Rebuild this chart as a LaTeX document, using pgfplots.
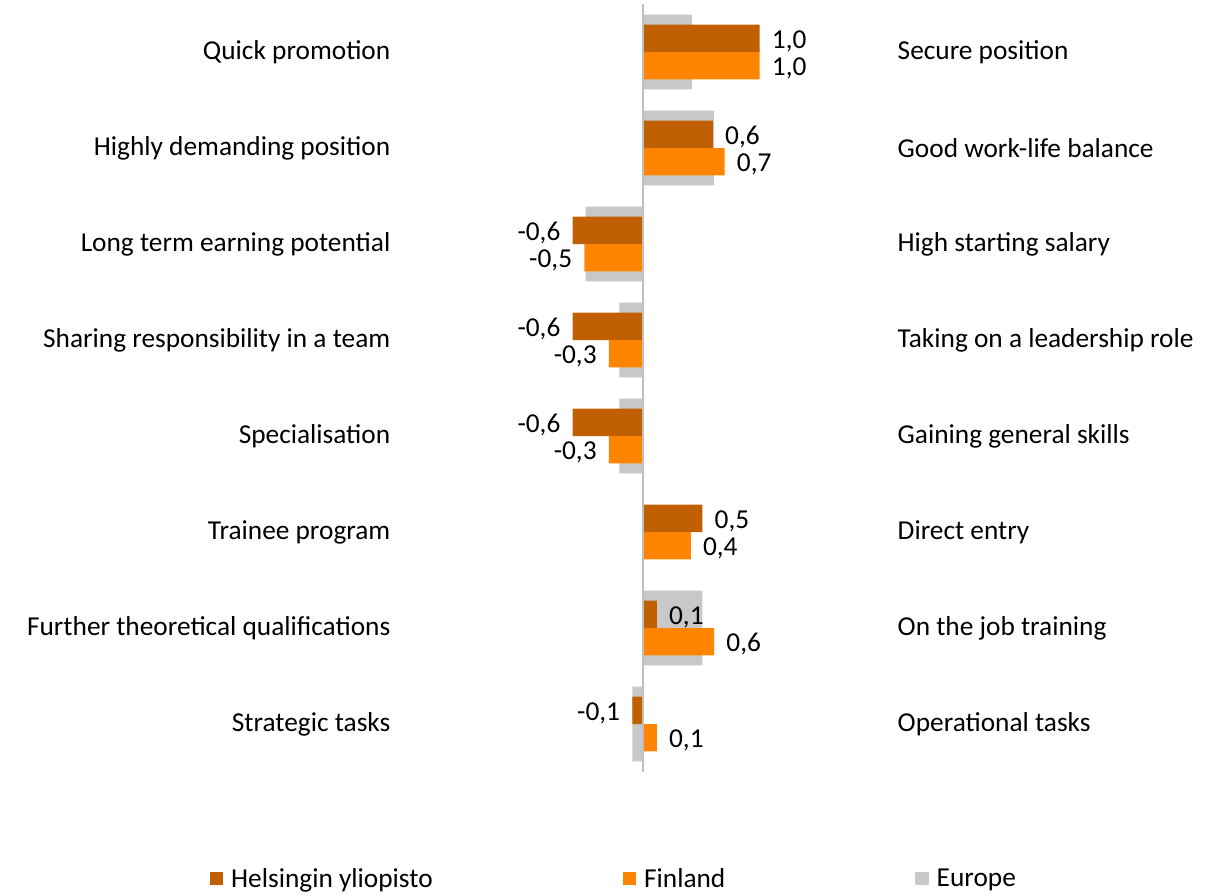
\documentclass[border=0pt]{standalone}
\usepackage{fontspec}
\setmainfont{Carlito}
\usepackage{pgfplots}
\pgfplotsset{compat=1.18}
\usepackage{pgfplotstable}

\definecolor{hycol}{RGB}{192,96,0}
\definecolor{ficol}{RGB}{255,133,0}
\definecolor{eucol}{RGB}{200,200,200}
\definecolor{zerocol}{RGB}{191,191,191}

% idx: row from top; hy = Helsingin yliopisto, fi = Finland, eu = Europe
\pgfplotstableread{
idx hy fi eu
0 1.00 1.00 0.42
1 0.60 0.70 0.61
2 -0.60 -0.50 -0.49
3 -0.60 -0.29 -0.20
4 -0.60 -0.29 -0.20
5 0.51 0.41 0.00
6 0.12 0.61 0.51
7 -0.09 0.12 -0.09
}\datatable

\newcommand{\lblfont}{\fontsize{20.5}{24}\selectfont}

\begin{document}
\begin{tikzpicture}
\useasboundingbox (-296.25pt,-91.5pt) rectangle (612pt,579pt);
\pgfkeys{/pgf/number format/.cd, fixed, fixed zerofill, precision=1, use comma, assume math mode=true}
\begin{axis}[
    at={(0pt,0pt)}, anchor=south west,
    scale only axis,
    width=373.5pt, height=576pt,
    xmin=-2.12, xmax=2.14,
    ymin=-0.5, ymax=7.5,
    y dir=reverse,
    axis line style={draw=none},
    xtick=\empty,
    ytick={0,...,7},
    major tick length=0pt,
    yticklabels={Quick promotion, Highly demanding position, Long term earning potential,
        Sharing responsibility in a team, Specialisation, Trainee program,
        Further theoretical qualifications, Strategic tasks},
    tick label style={font=\lblfont},
    legend image code/.code={\fill[#1, draw=none] (0pt,-4.9pt) rectangle (10pt,4.9pt); \path (14pt,0pt);},
    legend style={draw=none, fill=none, at={(axis cs:-3.74,8.61)}, anchor=west,
        font=\lblfont, /tikz/every even column/.append style={column sep=140.5pt}},
    legend columns=3,
    legend cell align=left,
]
\addplot[xbar, bar width=0.78, bar shift=0, fill=eucol, draw=none, forget plot]
    table[x=eu, y=idx] {\datatable};
\addplot[xbar, bar width=0.286, bar shift=-0.143, fill=hycol, draw=none, forget plot,
    point meta=x, nodes near coords, nodes near coords align={horizontal},
    every node near coord/.append style={font=\lblfont, text=black, yshift=8.3pt, inner xsep=9pt}]
    table[x=hy, y=idx] {\datatable};
\addplot[xbar, bar width=0.286, bar shift=0.143, fill=ficol, draw=none, forget plot,
    point meta=x, nodes near coords, nodes near coords align={horizontal},
    every node near coord/.append style={font=\lblfont, text=black, yshift=-12.3pt, inner xsep=9pt}]
    table[x=fi, y=idx] {\datatable};
\draw[color=zerocol, line width=1.5pt] (axis cs:0,-0.5) -- (axis cs:0,7.5);

\addlegendimage{fill=hycol, draw=none}
\addlegendentry{Helsingin yliopisto}
\addlegendimage{fill=ficol, draw=none}
\addlegendentry{Finland}
\addlegendimage{fill=eucol, draw=none}
\addlegendentry{Europe}
\end{axis}

\begin{axis}[
    at={(0pt,0pt)}, anchor=south west,
    scale only axis,
    width=373.5pt, height=576pt,
    xmin=-2.12, xmax=2.14,
    ymin=-0.5, ymax=7.5,
    y dir=reverse,
    axis line style={draw=none},
    xtick=\empty,
    ytick={0,...,7},
    major tick length=0pt,
    yticklabel pos=right,
    yticklabels={Secure position, Good work-life balance, High starting salary,
        Taking on a leadership role, Gaining general skills, Direct entry,
        On the job training, Operational tasks},
    tick label style={font=\lblfont},
]
\end{axis}
\end{tikzpicture}
\end{document}
